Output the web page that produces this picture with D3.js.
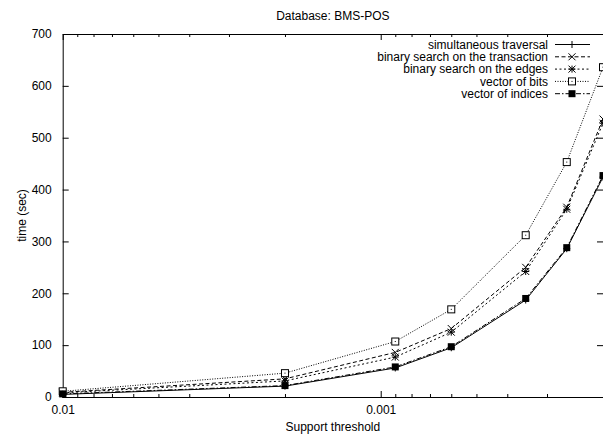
<!DOCTYPE html>
<html>
<head>
<meta charset="utf-8">
<script src="https://cdn.jsdelivr.net/npm/d3@7"></script>
<style>
  body { margin: 0; background: #fff; }
  text { font-family: "Liberation Sans", Arial, sans-serif; font-size: 12px; fill: #000; }
</style>
</head>
<body>
<svg id="chart" width="603" height="437"></svg>
<script>
// support thresholds (x, log scale, decreasing to the right)
const supports = [0.01, 0.002, 0.0009, 0.0006, 0.00035, 0.00026, 0.0002];
const simultaneousTraversal = [5, 21, 56, 95, 187, 286, 424];
const binarySearchTransaction = [9, 35, 86, 132, 250, 366, 536];
const binarySearchEdges = [8, 31, 77, 125, 242, 362, 528];
const vectorOfBits = [11, 46, 107, 169, 312, 453, 636];
const vectorOfIndices = [6, 22, 58, 97, 190, 288, 427];

const xMajorTicks = [0.01, 0.001];
const xMinorTicks = [0.009, 0.008, 0.007, 0.006, 0.005, 0.004, 0.003, 0.002,
  0.0009, 0.0008, 0.0007, 0.0006, 0.0005, 0.0004, 0.0003];
const yTicks = [0, 100, 200, 300, 400, 500, 600, 700];

const series = [
  { name: 'simultaneous traversal', values: simultaneousTraversal, dash: null, marker: 'plus' },
  { name: 'binary search on the transaction', values: binarySearchTransaction, dash: '4,2.5', marker: 'cross' },
  { name: 'binary search on the edges', values: binarySearchEdges, dash: '2,2.5', marker: 'star' },
  { name: 'vector of bits', values: vectorOfBits, dash: '1,1.5', marker: 'box' },
  { name: 'vector of indices', values: vectorOfIndices, dash: '5,2,1.5,2', marker: 'filled' }
];

const svg = d3.select('#chart');
const plotLeft = 62.7, plotRight = 603, plotTop = 34, plotBottom = 397;

const x = d3.scaleLog().domain([0.01, 0.0002]).range([plotLeft, plotRight]);
const y = d3.scaleLinear().domain([0, 700]).range([plotBottom, plotTop]);

// title
svg.append('text')
  .attr('x', (plotLeft + plotRight) / 2).attr('y', 20)
  .attr('text-anchor', 'middle')
  .text('Database: BMS-POS');

// axes
const fmt = d => d === 0.01 ? '0.01' : '0.001';
svg.append('g')
  .attr('transform', `translate(0,${plotBottom})`)
  .call(d3.axisBottom(x).tickValues(xMajorTicks).tickFormat(fmt).tickSizeInner(-6).tickSizeOuter(0).tickPadding(8));
svg.append('g')
  .attr('transform', `translate(0,${plotBottom})`)
  .call(d3.axisBottom(x).tickValues(xMinorTicks).tickFormat('').tickSizeInner(-3).tickSizeOuter(0));
svg.append('g')
  .attr('transform', `translate(0,${plotTop})`)
  .call(d3.axisTop(x).tickValues(xMajorTicks).tickFormat('').tickSizeInner(-6).tickSizeOuter(0));
svg.append('g')
  .attr('transform', `translate(0,${plotTop})`)
  .call(d3.axisTop(x).tickValues(xMinorTicks).tickFormat('').tickSizeInner(-3).tickSizeOuter(0));
svg.append('g')
  .attr('transform', `translate(${plotLeft},0)`)
  .call(d3.axisLeft(y).tickValues(yTicks).tickSizeInner(-6).tickSizeOuter(0).tickPadding(11));
svg.append('g')
  .attr('transform', `translate(${plotRight},0)`)
  .call(d3.axisRight(y).tickValues(yTicks).tickFormat('').tickSizeInner(-6).tickSizeOuter(0));

svg.selectAll('.domain').attr('stroke', '#000');
svg.selectAll('.tick line').attr('stroke', '#000');
svg.selectAll('.tick text').style('font-size', '12px').style('font-family', '"Liberation Sans", Arial, sans-serif');

// axis titles
svg.append('text')
  .attr('x', (plotLeft + plotRight) / 2).attr('y', 431)
  .attr('text-anchor', 'middle')
  .text('Support threshold');
svg.append('text')
  .attr('transform', `translate(26,${(plotTop + plotBottom) / 2}) rotate(-90)`)
  .attr('text-anchor', 'middle')
  .text('time (sec)');

function drawMarker(g, type, cx, cy) {
  const s = 3.5;
  if (type === 'plus' || type === 'star') {
    g.append('path').attr('d', `M${cx - s},${cy}H${cx + s}M${cx},${cy - s}V${cy + s}`)
      .attr('stroke', '#000').attr('fill', 'none');
  }
  if (type === 'cross' || type === 'star') {
    g.append('path').attr('d', `M${cx - s},${cy - s}L${cx + s},${cy + s}M${cx - s},${cy + s}L${cx + s},${cy - s}`)
      .attr('stroke', '#000').attr('fill', 'none');
  }
  if (type === 'box') {
    g.append('rect').attr('x', cx - s).attr('y', cy - s).attr('width', 2 * s).attr('height', 2 * s)
      .attr('stroke', '#000').attr('fill', '#fff');
    g.append('rect').attr('x', cx - 0.5).attr('y', cy - 0.5).attr('width', 1).attr('height', 1).attr('fill', '#000');
  }
  if (type === 'filled') {
    g.append('rect').attr('x', cx - s).attr('y', cy - s).attr('width', 2 * s).attr('height', 2 * s)
      .attr('fill', '#000');
  }
}

const line = d3.line().x(d => x(d[0])).y(d => y(d[1]));

series.forEach((s, i) => {
  const g = svg.append('g');
  const pts = supports.map((v, j) => [v, s.values[j]]);
  g.append('path')
    .attr('d', line(pts))
    .attr('fill', 'none')
    .attr('stroke', '#000')
    .attr('stroke-width', 1)
    .attr('stroke-dasharray', s.dash);
  pts.forEach(p => drawMarker(g, s.marker, x(p[0]), y(p[1])));

  // legend entry
  const ly = 44.5 + i * 12.3;
  const lg = svg.append('g');
  lg.append('text')
    .attr('x', 548).attr('y', ly + 4.2)
    .attr('text-anchor', 'end')
    .text(s.name);
  lg.append('line')
    .attr('x1', 555).attr('x2', 590).attr('y1', ly).attr('y2', ly)
    .attr('stroke', '#000')
    .attr('stroke-dasharray', s.dash);
  drawMarker(lg, s.marker, 572, ly);
});
</script>
</body>
</html>
